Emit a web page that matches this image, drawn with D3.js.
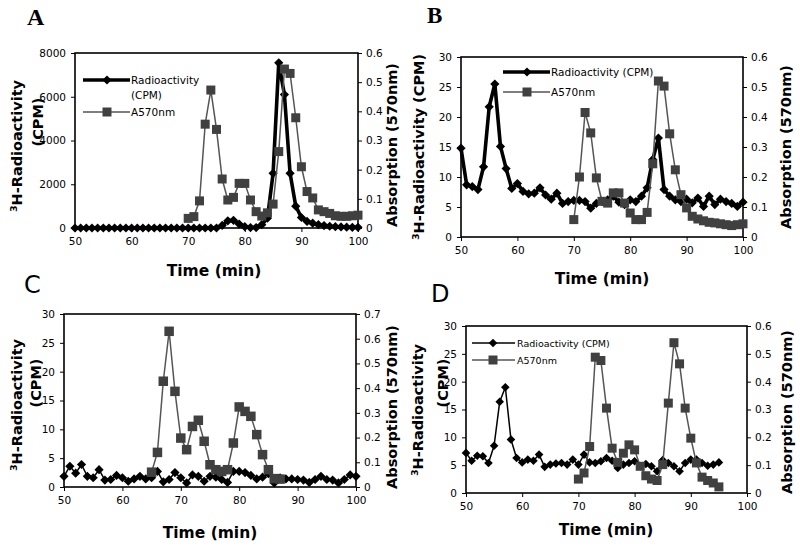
<!DOCTYPE html>
<html><head><meta charset="utf-8">
<script src="https://cdn.jsdelivr.net/npm/d3@7"></script>
<style>
body{margin:0;background:#fff}
svg{display:block}
text{font-family:"DejaVu Sans",Verdana,sans-serif;fill:#000}
</style>
</head><body>
<svg id="chart" width="800" height="547"></svg>
<script>
// ---------------- DATA ----------------
const minutes50to100 = [50,51,52,53,54,55,56,57,58,59,60,61,62,63,64,65,66,67,68,69,70,71,72,73,74,75,76,77,78,79,80,81,82,83,84,85,86,87,88,89,90,91,92,93,94,95,96,97,98,99,100];
const minutes70to100 = [70,71,72,73,74,75,76,77,78,79,80,81,82,83,84,85,86,87,88,89,90,91,92,93,94,95,96,97,98,99,100];
const minutes65to87  = [65,66,67,68,69,70,71,72,73,74,75,76,77,78,79,80,81,82,83,84,85,86,87];
const minutes50to95  = [50,51,52,53,54,55,56,57,58,59,60,61,62,63,64,65,66,67,68,69,70,71,72,73,74,75,76,77,78,79,80,81,82,83,84,85,86,87,88,89,90,91,92,93,94,95];
const minutes70to95  = [70,71,72,73,74,75,76,77,78,79,80,81,82,83,84,85,86,87,88,89,90,91,92,93,94,95];

const timeTicks = [50,60,70,80,90,100];
const cpmTicksA = [0,2000,4000,6000,8000];
const cpmTicks30 = [0,5,10,15,20,25,30];
const absTicks06 = [0,0.1,0.2,0.3,0.4,0.5,0.6];
const absTicks07 = [0,0.1,0.2,0.3,0.4,0.5,0.6,0.7];

// Panel A
const radioA = [0,0,0,0,0,0,0,0,0,0,0,0,0,0,0,0,0,0,0,0,0,0,0,0,0,0,
  120,330,350,180,60,20,20,150,450,2500,7550,6100,2500,1000,480,300,220,150,110,80,60,50,40,30,30];
const absA = [0.033,0.039,0.093,0.356,0.473,0.338,0.168,0.096,0.105,0.153,0.153,0.096,0.056,0.041,0.052,0.082,
  0.262,0.545,0.530,0.378,0.210,0.125,0.103,0.062,0.056,0.050,0.042,0.040,0.040,0.042,0.044];

// Panel B
const radioB = [14.8,8.7,8.4,7.9,11.7,21.7,25.5,15.1,11.4,8.1,
  8.9,7.6,7.2,7.3,8.2,7.0,6.3,7.3,5.6,5.9,
  6.1,6.1,5.9,4.8,5.6,5.9,6.2,6.8,5.8,5.4,
  6.2,5.9,6.8,8.2,12.9,16.5,7.9,6.8,6.2,5.9,
  6.3,5.7,6.5,5.1,6.8,5.4,6.3,5.9,5.6,5.1,5.8];
const absB = [0.058,0.200,0.415,0.347,0.197,0.119,0.113,0.147,0.147,0.113,0.080,0.058,0.058,0.082,0.244,
  0.520,0.503,0.344,0.224,0.141,0.097,0.069,0.060,0.054,0.049,0.047,0.044,0.041,0.038,0.041,0.044];

// Panel C
const radioC = [1.85,3.6,2.4,3.9,1.85,1.6,3.0,1.2,1.3,2.0,
  1.6,1.0,1.4,1.85,1.4,1.6,2.7,0.9,1.3,2.5,
  1.6,0.7,2.1,1.85,1.0,1.85,1.7,1.3,0.8,2.7,
  2.7,2.5,2.0,1.4,1.7,2.3,0.7,1.6,1.4,1.4,
  1.3,1.2,0.8,1.3,1.85,1.3,1.2,0.7,1.3,2.1,1.85];
const absC = [0.060,0.140,0.428,0.630,0.387,0.198,0.151,0.245,0.270,0.185,0.090,0.070,0.063,0.070,
  0.178,0.324,0.306,0.286,0.212,0.131,0.070,0.034,0.032];

// Panel D
const radioD = [7.2,5.8,6.7,6.6,5.4,8.5,16.4,19.0,9.6,6.3,
  5.5,6.0,5.8,6.9,4.7,5.1,5.3,5.4,5.1,6.0,
  5.1,6.9,5.5,5.4,5.7,6.3,5.8,4.5,5.1,5.4,
  5.7,4.8,5.2,4.8,3.9,5.9,5.4,4.8,3.9,5.4,
  6.0,6.0,5.4,4.9,5.1,5.5];
const absD = [0.050,0.072,0.167,0.488,0.476,0.305,0.161,0.110,0.143,0.173,0.155,0.096,0.062,0.050,0.045,
  0.102,0.323,0.540,0.464,0.305,0.197,0.108,0.057,0.045,0.036,0.022];

const legendRadio = "Radioactivity (CPM)";
const legendAbs = "A570nm";
const xTitle = "Time (min)";
const rightTitle = "Absorption (570nm)";

// ---------------- LAYOUT ----------------
const panels = [
  {label:"A", serif:true, labelXY:[27,25], labelSize:24,
   box:{l:75,t:53,r:358,b:228}, yL:[0,8000], yLT:cpmTicksA, yR:[0,0.6], yRT:absTicks06,
   radT:minutes50to100, radV:radioA, absT:minutes70to100, absV:absA, radW:3.6, dia:4.6, sq:9,
   xTitleXY:[214,276], xTitleSize:15.5,
   leftTitle:{x:22,y:146,one:false}, cpmXY:[43,122], rightTitleXY:[397,145],
   legend:{x1:83,x2:130,mx:107,y1:80,y2:112,tx:131,size:10.5,wrap:true}},
  {label:"B", serif:true, labelXY:[427,23], labelSize:23,
   box:{l:461,t:57,r:743,b:237}, yL:[0,30], yLT:cpmTicks30, yR:[0,0.6], yRT:absTicks06,
   radT:minutes50to100, radV:radioB, absT:minutes70to100, absV:absB, radW:3.6, dia:4.6, sq:9,
   xTitleXY:[602,284], xTitleSize:15.5,
   leftTitle:{x:424,y:147,one:true}, rightTitleXY:[791,147],
   legend:{x1:503,x2:550,mx:527,y1:72,y2:92,tx:551,size:10.5}},
  {label:"C", serif:false, labelXY:[24,293], labelSize:24,
   box:{l:64,t:314,r:356,b:487}, yL:[0,30], yLT:cpmTicks30, yR:[0,0.7], yRT:absTicks07,
   radT:minutes50to100, radV:radioC, absT:minutes65to87, absV:absC, radW:1.5, dia:4.6, sq:9.5,
   xTitleXY:[210,538], xTitleSize:15.5,
   leftTitle:{x:22,y:405,one:false}, cpmXY:[41,383], rightTitleXY:[397,407],
   legend:null},
  {label:"D", serif:false, labelXY:[431,302], labelSize:24,
   box:{l:466,t:326,r:747,b:493}, yL:[0,30], yLT:cpmTicks30, yR:[0,0.6], yRT:absTicks06,
   radT:minutes50to95, radV:radioD, absT:minutes70to95, absV:absD, radW:1.5, dia:4.3, sq:9,
   xTitleXY:[606,535], xTitleSize:15.5,
   leftTitle:{x:423,y:410,one:false}, cpmXY:[448,383], rightTitleXY:[792,412],
   legend:{x1:472,x2:515,mx:493,y1:343,y2:360,tx:517,size:9.5}}
];

const svg = d3.select("#chart");
svg.append("rect").attr("width",800).attr("height",547).attr("fill","#fff");

const diamondPath = h => `M0,${-h}L${h},0L0,${h}L${-h},0Z`;
const SQ_FILL = "#404040", SQ_LINE = "#555";

function drawPanel(p){
  const g = svg.append("g");
  const B = p.box;
  const x = d3.scaleLinear().domain([50,100]).range([B.l,B.r]);
  const yL = d3.scaleLinear().domain(p.yL).range([B.b,B.t]);
  const yR = d3.scaleLinear().domain(p.yR).range([B.b,B.t]);

  g.append("text").attr("x",p.labelXY[0]).attr("y",p.labelXY[1])
    .style("font-family", p.serif ? "'Liberation Serif','Times New Roman',serif" : "'DejaVu Sans',Verdana,sans-serif")
    .style("font-weight", p.serif ? "bold" : "normal")
    .style("font-size", p.labelSize+"px").text(p.label);

  const axL = g.append("g").attr("transform",`translate(${B.l},0)`)
    .call(d3.axisLeft(yL).tickValues(p.yLT).tickSize(4).tickPadding(5).tickFormat(d3.format("d")));
  const axR = g.append("g").attr("transform",`translate(${B.r},0)`)
    .call(d3.axisRight(yR).tickValues(p.yRT).tickSize(4).tickPadding(4).tickFormat(d=> d===0?"0":d3.format(".1f")(d)));
  const axB = g.append("g").attr("transform",`translate(0,${B.b})`)
    .call(d3.axisBottom(x).tickValues(timeTicks).tickSize(4).tickPadding(6).tickFormat(d3.format("d")));
  [axL,axR,axB].forEach(a=>{
    a.select(".domain").remove();
    a.selectAll("line").attr("stroke","#000").attr("stroke-width",1);
    a.selectAll("text").style("font-size","10.5px").style("font-family","'DejaVu Sans',Verdana,sans-serif");
  });

  g.append("rect").attr("x",B.l).attr("y",B.t).attr("width",B.r-B.l).attr("height",B.b-B.t)
    .attr("fill","none").attr("stroke","#000").attr("stroke-width",1.6);

  g.append("text").attr("x",p.xTitleXY[0]).attr("y",p.xTitleXY[1]).attr("text-anchor","middle")
    .style("font-weight","bold").style("font-size",p.xTitleSize+"px").text(xTitle);

  const lt = p.leftTitle;
  const t = g.append("text").attr("transform",`translate(${lt.x},${lt.y}) rotate(-90)`)
    .attr("text-anchor","middle").style("font-weight","bold").style("font-size","14.5px");
  t.append("tspan").attr("baseline-shift","super").style("font-size","9.5px").text("3");
  t.append("tspan").text(lt.one ? "H-Radioactivity (CPM)" : "H-Radioactivity");
  if(!lt.one){
    g.append("text").attr("transform",`translate(${p.cpmXY[0]},${p.cpmXY[1]}) rotate(-90)`)
      .attr("text-anchor","middle").style("font-weight","bold").style("font-size","14.5px").text("(CPM)");
  }
  g.append("text").attr("transform",`translate(${p.rightTitleXY[0]},${p.rightTitleXY[1]}) rotate(-90)`)
    .attr("text-anchor","middle").style("font-weight","bold").style("font-size","14.5px").text(rightTitle);

  if(p.legend){
    const L = p.legend;
    g.append("line").attr("x1",L.x1).attr("x2",L.x2).attr("y1",L.y1).attr("y2",L.y1)
      .attr("stroke","#000").attr("stroke-width",p.radW);
    g.append("path").attr("d",diamondPath(p.dia)).attr("transform",`translate(${L.mx},${L.y1})`).attr("fill","#000");
    g.append("line").attr("x1",L.x1).attr("x2",L.x2).attr("y1",L.y2).attr("y2",L.y2)
      .attr("stroke",SQ_LINE).attr("stroke-width",1.5);
    g.append("rect").attr("x",L.mx-p.sq/2).attr("y",L.y2-p.sq/2).attr("width",p.sq).attr("height",p.sq).attr("fill",SQ_FILL);
    if(L.wrap){
      g.append("text").attr("x",L.tx).attr("y",L.y1+4).style("font-size",L.size+"px").text("Radioactivity");
      g.append("text").attr("x",L.tx).attr("y",L.y1+19).style("font-size",L.size+"px").text("(CPM)");
    } else {
      g.append("text").attr("x",L.tx).attr("y",L.y1+4).style("font-size",L.size+"px").text(legendRadio);
    }
    g.append("text").attr("x",L.tx).attr("y",L.y2+4).style("font-size",L.size+"px").text(legendAbs);
  }

  const radPts = p.radT.map((t,i)=>[t,p.radV[i]]);
  g.append("path").datum(radPts)
    .attr("d", d3.line().x(d=>x(d[0])).y(d=>yL(d[1])))
    .attr("fill","none").attr("stroke","#000").attr("stroke-width",p.radW).attr("stroke-linejoin","round");
  g.selectAll(null).data(radPts).join("path")
    .attr("d",diamondPath(p.dia)).attr("transform",d=>`translate(${x(d[0])},${yL(d[1])})`).attr("fill","#000");

  const absPts = p.absT.map((t,i)=>[t,p.absV[i]]);
  g.append("path").datum(absPts)
    .attr("d", d3.line().x(d=>x(d[0])).y(d=>yR(d[1])))
    .attr("fill","none").attr("stroke",SQ_LINE).attr("stroke-width",1.5);
  g.selectAll(null).data(absPts).join("rect")
    .attr("x",d=>x(d[0])-p.sq/2).attr("y",d=>yR(d[1])-p.sq/2)
    .attr("width",p.sq).attr("height",p.sq).attr("fill",SQ_FILL);
}
panels.forEach(drawPanel);
</script>
</body></html>
